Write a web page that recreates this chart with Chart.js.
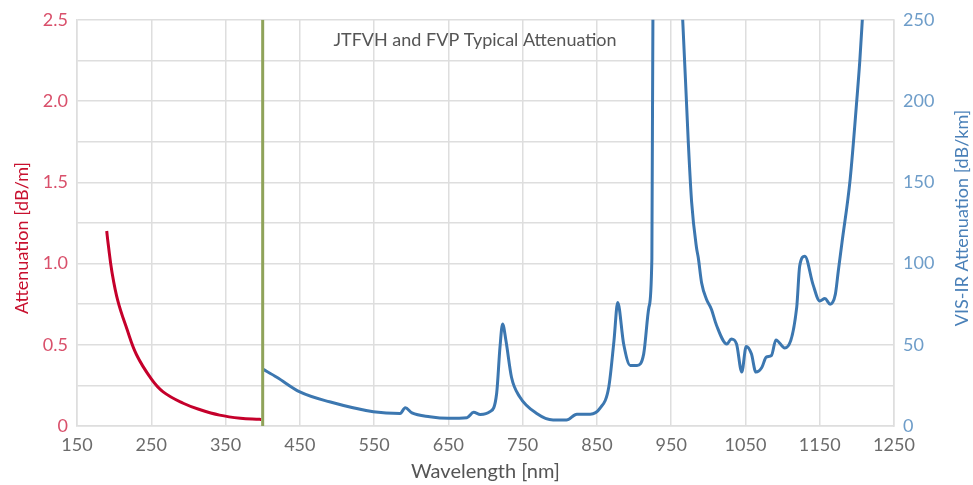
<!DOCTYPE html>
<html>
<head>
<meta charset="utf-8">
<script src="https://cdn.jsdelivr.net/npm/chart.js@4.4.0/dist/chart.umd.min.js"></script>
<style>
    html, body { margin: 0; padding: 0; background: #fff; }
</style>
</head>
<body>
<canvas id="attChart" width="973" height="485"></canvas>
<script>
// UV fiber, left axis (dB/m)
const uvWavelength = [190, 192, 197, 205, 217, 230, 250, 266, 293, 316, 342, 370, 396, 398];
const uvAttenuation = [1.20, 1.12, 0.95, 0.77, 0.60, 0.44, 0.29, 0.21, 0.14, 0.10, 0.067, 0.048, 0.041, 0.040];

// VIS-IR fiber, right axis (dB/km)
const visWavelength = [400, 419, 450, 490, 549, 585, 592, 601, 625, 650, 675, 684, 693, 706, 715, 719.5, 723, 727.5, 735, 746,
    769, 791, 809, 823, 841, 854, 866, 873, 878, 886, 895, 904, 913, 920, 924, 925.5, 945, 965, 973, 977.5,
    984, 986.5, 991, 997.5, 1004, 1011, 1025, 1031, 1038, 1045, 1051, 1058, 1064, 1072, 1078, 1085, 1091, 1103, 1119, 1123,
    1130, 1141, 1150, 1157, 1164, 1171, 1175, 1180, 1191, 1200, 1204, 1208];
const visAttenuation = [35, 30, 21, 14.9, 8.8, 7.7, 11.2, 8.1, 5.7, 4.7, 5.1, 8.4, 7.1, 8.8, 20, 48.5, 62.8, 52.6, 30, 18,
    7.7, 3.7, 3.7, 7.3, 7.3, 10.8, 24, 52.6, 76, 50.5, 37.3, 37.3, 44.4, 73, 103, 260, 400, 255, 175, 138,
    110, 103.5, 88, 78, 72, 62, 50.5, 53.6, 50.5, 33.2, 49, 44.4, 33.2, 36, 42.4, 43.4, 53, 48, 73, 98.4,
    104.5, 87, 77, 78.4, 75, 81, 95.4, 113, 152, 201, 225, 255];

// boundary marker between the two fibers
const dividerWavelength = [400, 400];
const dividerLevel = [0, 2.5];

const xTickValues = [150, 250, 350, 450, 550, 650, 750, 850, 950, 1050, 1150, 1250];
const leftTickValues = [0, 0.25, 0.5, 0.75, 1, 1.25, 1.5, 1.75, 2, 2.25, 2.5];
const leftTickLabels = ['0', '', '0.5', '', '1.0', '', '1.5', '', '2.0', '', '2.5'];
const rightTickValues = [0, 25, 50, 75, 100, 125, 150, 175, 200, 225, 250];
const rightTickLabels = ['0', '', '50', '', '100', '', '150', '', '200', '', '250'];

const FONT = 'Lato, "DejaVu Sans", sans-serif';
const GRID = '#dedede';

function toPoints(xs, ys) {
    return xs.map((x, i) => ({x: x, y: ys[i]}));
}

const textPlugin = {
    id: 'textPlugin',
    afterDraw(chart) {
        const ctx = chart.ctx;
        ctx.save();
        ctx.textAlign = 'center';
        ctx.textBaseline = 'middle';
        ctx.font = '18px ' + FONT;
        ctx.fillStyle = '#555555';
        ctx.fillText('JTFVH and FVP Typical Attenuation', 475, 40);

        ctx.fillStyle = '#c8102e';
        ctx.translate(22, 238);
        ctx.rotate(-Math.PI / 2);
        ctx.fillText('Attenuation [dB/m]', 0, 0);
        ctx.restore();

        ctx.save();
        ctx.textAlign = 'center';
        ctx.textBaseline = 'middle';
        ctx.font = '18px ' + FONT;
        ctx.fillStyle = '#4a80b8';
        ctx.translate(962, 218);
        ctx.rotate(-Math.PI / 2);
        ctx.fillText('VIS-IR Attenuation [dB/km]', 0, 0);
        ctx.restore();
    }
};

new Chart(document.getElementById('attChart').getContext('2d'), {
    type: 'line',
    plugins: [textPlugin],
    data: {
        datasets: [
            {
                label: 'Divider',
                data: toPoints(dividerWavelength, dividerLevel),
                yAxisID: 'y',
                borderColor: '#8fa35a',
                borderWidth: 3,
                pointRadius: 0,
                order: 0
            },
            {
                label: 'UV',
                data: toPoints(uvWavelength, uvAttenuation),
                yAxisID: 'y',
                borderColor: '#c5002b',
                borderWidth: 3,
                pointRadius: 0,
                tension: 0.4,
                order: 1
            },
            {
                label: 'VIS-IR',
                data: toPoints(visWavelength, visAttenuation),
                yAxisID: 'y1',
                borderColor: '#3c77b0',
                borderWidth: 3,
                pointRadius: 0,
                cubicInterpolationMode: 'monotone',
                order: 2
            }
        ]
    },
    options: {
        responsive: false,
        animation: false,
        layout: {padding: {top: 17, left: 0, right: 0, bottom: 0}},
        plugins: {
            legend: {display: false},
            tooltip: {enabled: false}
        },
        scales: {
            x: {
                type: 'linear',
                min: 150,
                max: 1250,
                afterBuildTicks: (scale) => {
                    scale.ticks = xTickValues.map(v => ({value: v}));
                },
                afterFit: (scale) => { scale.height = 59; },
                grid: {color: GRID, lineWidth: 1.5, drawTicks: false},
                border: {color: GRID, width: 1.5},
                ticks: {
                    color: '#6b6b6b',
                    font: {family: FONT, size: 18},
                    padding: 8,
                    maxRotation: 0,
                    autoSkip: false,
                    callback: (v) => String(v)
                },
                title: {
                    display: true,
                    text: 'Wavelength [nm]',
                    color: '#555555',
                    font: {family: FONT, size: 20},
                    padding: {top: 0, bottom: 1}
                }
            },
            y: {
                position: 'left',
                min: 0,
                max: 2.5,
                afterBuildTicks: (scale) => {
                    scale.ticks = leftTickValues.map(v => ({value: v}));
                },
                afterFit: (scale) => { scale.width = 77; },
                grid: {color: GRID, lineWidth: 1.5, drawTicks: false},
                border: {color: GRID, width: 1.5},
                ticks: {
                    color: '#d9506b',
                    font: {family: FONT, size: 18},
                    padding: 9,
                    autoSkip: false,
                    callback: (v, i) => leftTickLabels[i]
                }
            },
            y1: {
                position: 'right',
                min: 0,
                max: 250,
                afterBuildTicks: (scale) => {
                    scale.ticks = rightTickValues.map(v => ({value: v}));
                },
                afterFit: (scale) => { scale.width = 79; },
                grid: {display: false, drawTicks: false},
                border: {color: GRID, width: 1.5},
                ticks: {
                    color: '#6e9dc9',
                    font: {family: FONT, size: 18},
                    padding: 9,
                    autoSkip: false,
                    callback: (v, i) => rightTickLabels[i]
                }
            }
        }
    }
});
</script>
</body>
</html>
